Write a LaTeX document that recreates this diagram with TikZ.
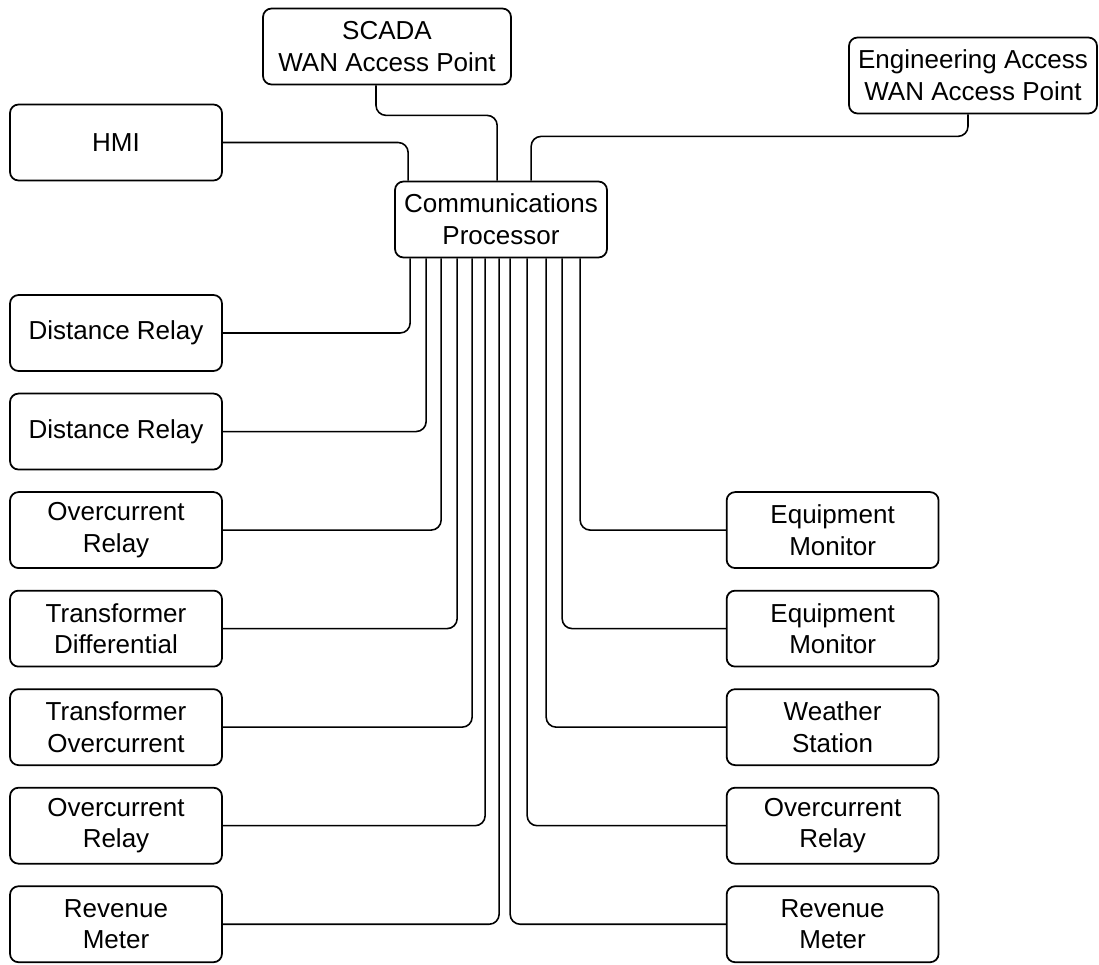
\documentclass[tikz,border=0pt]{standalone}
\usepackage{fontspec}
\setmainfont{Liberation Sans}
\usepackage{tikz}
\usetikzlibrary{positioning}

\tikzset{
  device/.style={draw, line width=1pt, rounded corners=0.17cm, align=center,
    minimum width=4.24cm, minimum height=1.52cm, inner sep=0pt,
    font=\fontsize{14.8}{18}\selectfont},
  wanap/.style={device, minimum width=4.96cm},
  link/.style={line width=0.9pt, rounded corners=0.2cm}
}

\begin{document}
\begin{tikzpicture}[x=0.02cm, y=-0.02cm, node distance=0.416cm]
      \useasboundingbox (0,0) rectangle (1099,964);
      % Define nodes
      \node[device] (cp) at (501,219.5) {Communications\\Processor};
      \node[device] (hmi) at (116,142.5) {HMI};
      \node[wanap] (scada) at (387,46.5) {SCADA\\WAN Access Point};
      \node[wanap] (eng) at (973,75.5) {Engineering Access\\WAN Access Point};
      % left column
      \node[device] (l1) at (116,333) {Distance Relay};
      \node[device, below=of l1] (l2) {Distance Relay};
      \node[device, below=of l2] (l3) {Overcurrent\\Relay};
      \node[device, below=of l3] (l4) {Transformer\\Differential};
      \node[device, below=of l4] (l5) {Transformer\\Overcurrent};
      \node[device, below=of l5] (l6) {Overcurrent\\Relay};
      \node[device, below=of l6] (l7) {Revenue\\Meter};
      % right column
      \node[device, right=10.06cm of l3] (r1) {Equipment\\Monitor};
      \node[device, below=of r1] (r2) {Equipment\\Monitor};
      \node[device, below=of r2] (r3) {Weather\\Station};
      \node[device, below=of r3] (r4) {Overcurrent\\Relay};
      \node[device, below=of r4] (r5) {Revenue\\Meter};
      % Links
      \draw[link] (hmi.east) -| ([xshift=14*0.02cm]cp.north west);
      \draw[link] ([xshift=-11*0.02cm]scada.south) -- ++(0,30) -| ([xshift=103*0.02cm]cp.north west);
      \draw[link] ([xshift=-5*0.02cm]eng.south) -- ++(0,22) -| ([xshift=137*0.02cm]cp.north west);
      \foreach \dx/\t in {16/l1, 32/l2, 47/l3, 63/l4, 78/l5, 91/l6, 105/l7, 116/r5, 133/r4, 152/r3, 168/r2, 186/r1}
        \draw[link] ([xshift=\dx*0.02cm]cp.south west) |- (\t);
    \end{tikzpicture}
\end{document}
